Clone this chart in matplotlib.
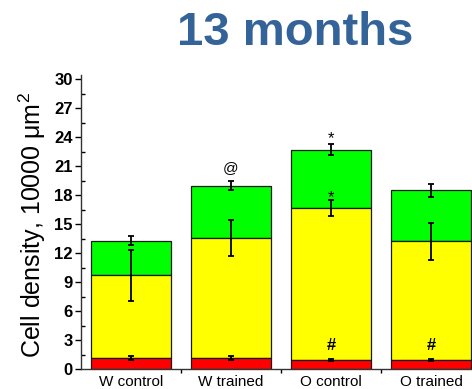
import matplotlib
matplotlib.use("Agg")
import matplotlib.pyplot as plt
import numpy as np

plt.rcParams['font.family'] = ['Liberation Sans', 'DejaVu Sans']
plt.rcParams['mathtext.fontset'] = 'custom'
plt.rcParams['mathtext.rm'] = 'Liberation Sans'
plt.rcParams['mathtext.it'] = 'Liberation Sans:italic'
plt.rcParams['mathtext.bf'] = 'Liberation Sans:bold'

# Group labels and stacked cumulative heights (red / yellow / green layers)
groups = ["W control", "W trained", "O control", "O trained"]
red_top = [1.2, 1.2, 1.0, 1.0]
yellow_top = [9.7, 13.6, 16.65, 13.25]
green_top = [13.3, 19.0, 22.7, 18.5]
red_err = [0.22, 0.22, 0.1, 0.1]
yellow_err = [2.6, 1.85, 0.83, 1.9]
green_err = [0.45, 0.5, 0.57, 0.67]

# Significance marks: (group index, y, symbol)
marks = [(1, 20.8, "@"), (2, 24.1, "*"), (2, 18.0, "*"), (2, 2.45, "#"), (3, 2.45, "#")]

fig = plt.figure(figsize=(4.72, 3.89), dpi=100)
ax = fig.add_axes([81 / 472, 19.7 / 389, 400 / 472, 294 / 389])

x = np.arange(len(groups))
w = 0.8
edge = dict(edgecolor="#1a1a1a", linewidth=0.9)
ax.bar(x, np.array(green_top) - np.array(yellow_top), w, bottom=yellow_top, color="#00ff00", **edge, zorder=2)
ax.bar(x, np.array(yellow_top) - np.array(red_top), w, bottom=red_top, color="#ffff00", **edge, zorder=2)
ax.bar(x, red_top, w, color="#ff0000", **edge, zorder=2)

eb = dict(fmt="none", ecolor="black", elinewidth=1.3, capsize=2.3, capthick=1.3, zorder=3)
ax.errorbar(x, red_top, yerr=red_err, **eb)
ax.errorbar(x, yellow_top, yerr=yellow_err, **eb)
ax.errorbar(x, green_top, yerr=green_err, **eb)

for gi, yv, sym in marks:
    if sym == "#":
        ax.text(gi, yv, sym, ha="center", va="center", fontsize=12, fontweight="bold", zorder=4)
    elif sym == "*":
        ax.text(gi, yv - 0.2, sym, ha="center", va="center", fontsize=12, zorder=4)
    else:
        ax.text(gi, yv, sym, ha="center", va="center", fontsize=11, zorder=4)

ax.set_xlim(-0.5, 3.5)
ax.set_ylim(0, 30.4)
ax.set_yticks(np.arange(0, 31, 3))
ax.set_yticks(np.arange(0, 30.1, 1.5), minor=True)
ax.set_xticks(x)
ax.set_xticklabels(groups, fontsize=11)
ax.set_xticks([0.5, 1.5, 2.5], minor=True)

for lab in ax.get_yticklabels():
    lab.set_fontweight("bold")
    lab.set_fontsize(12)

ax.tick_params(axis="y", which="major", direction="out", length=4, width=1, pad=2)
ax.tick_params(axis="y", which="minor", direction="in", length=3, width=1)
ax.tick_params(axis="x", which="major", length=0, pad=4)
ax.tick_params(axis="x", which="minor", direction="out", length=3, width=1)

for s in ["top", "right"]:
    ax.spines[s].set_visible(False)
for s in ["left", "bottom"]:
    ax.spines[s].set_linewidth(1.0)
    ax.spines[s].set_color("#333333")

fig.text(32 / 472, 1 - 225 / 389, "Cell density, 10000 μm$^2$", rotation=90,
         ha="center", va="center", fontsize=18)
fig.text(295 / 472, 1 - 45 / 389, "13 months", ha="center", va="baseline",
         fontsize=34, fontweight="bold", color="#346399")

fig.savefig("out.png", dpi=100)
